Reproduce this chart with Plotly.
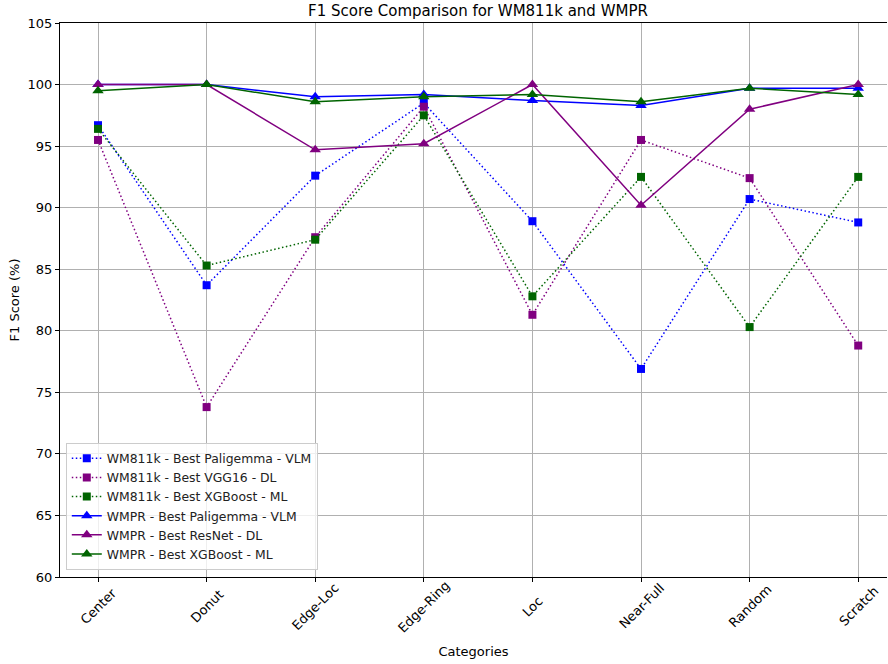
import plotly.graph_objects as go

categories = ["Center", "Donut", "Edge-Loc", "Edge-Ring", "Loc", "Near-Full", "Random", "Scratch"]

wm_paligemma = [96.7, 83.7, 92.6, 98.5, 88.9, 76.9, 90.7, 88.8]
wm_vgg16 = [95.5, 73.8, 87.6, 98.2, 81.3, 95.5, 92.4, 78.8]
wm_xgboost = [96.4, 85.3, 87.4, 97.5, 82.8, 92.5, 80.3, 92.5]
wmpr_paligemma = [100.0, 100.0, 99.0, 99.2, 98.7, 98.3, 99.7, 99.7]
wmpr_resnet = [100.0, 100.0, 94.7, 95.2, 100.0, 90.2, 98.0, 100.0]
wmpr_xgboost = [99.5, 100.0, 98.6, 99.0, 99.2, 98.6, 99.7, 99.2]

x_idx = list(range(len(categories)))

BLUE = "#0000ff"
PURPLE = "#800080"
GREEN = "#006400"
DOTTED = "1.5px,2.5px"

series = [
    ("WM811k - Best Paligemma - VLM", wm_paligemma, BLUE, DOTTED, "square", 8),
    ("WM811k - Best VGG16 - DL", wm_vgg16, PURPLE, DOTTED, "square", 8),
    ("WM811k - Best XGBoost - ML", wm_xgboost, GREEN, DOTTED, "square", 8),
    ("WMPR - Best Paligemma - VLM", wmpr_paligemma, BLUE, "solid", "triangle-up", 10),
    ("WMPR - Best ResNet - DL", wmpr_resnet, PURPLE, "solid", "triangle-up", 10),
    ("WMPR - Best XGBoost - ML", wmpr_xgboost, GREEN, "solid", "triangle-up", 10),
]

fig = go.Figure()
for name, vals, color, dash, sym, size in series:
    fig.add_trace(go.Scatter(
        x=x_idx, y=vals, name=name, mode="lines+markers",
        line=dict(color=color, width=1.5, dash=dash),
        marker=dict(symbol=sym, size=size, color=color),
        cliponaxis=False,
    ))

font_family = "DejaVu Sans"
annotations = []
for i, c in enumerate(categories):
    annotations.append(dict(
        x=i, y=0, xref="x", yref="paper", text=c, showarrow=False,
        textangle=-45, xanchor="center", yanchor="middle", yshift=-29,
        font=dict(family=font_family, size=13, color="#000000"),
    ))

fig.update_layout(
    width=888, height=664,
    margin=dict(l=60, r=1, t=23, b=87, autoexpand=False),
    paper_bgcolor="white", plot_bgcolor="white",
    font=dict(family=font_family, size=13, color="#000000"),
    title=dict(text="F1 Score Comparison for WM811k and WMPR",
               x=478/888, xanchor="center", y=1 - 11/664, yanchor="middle",
               font=dict(family=font_family, size=15, color="#000000")),
    showlegend=True,
    legend=dict(x=0.007, y=0.013, xanchor="left", yanchor="bottom",
                bgcolor="rgba(255,255,255,0.8)", bordercolor="#cccccc", borderwidth=1,
                font=dict(family=font_family, size=12.4, color="#222222"),
                tracegroupgap=0, itemwidth=30),
    annotations=annotations,
)

fig.update_xaxes(
    range=[-0.35, 7.265], tickmode="array", tickvals=x_idx, ticktext=categories,
    showticklabels=False, showgrid=True, gridcolor="#b0b0b0", gridwidth=1,
    showline=True, linecolor="#000000", linewidth=1, mirror=True,
    ticks="outside", ticklen=4, tickcolor="#000000", zeroline=False, automargin=False,
    title=dict(text="Categories", standoff=65, font=dict(family=font_family, size=13)),
)
fig.update_yaxes(
    range=[60, 105], tick0=60, dtick=5, showgrid=True, gridcolor="#b0b0b0", gridwidth=1,
    showline=True, linecolor="#000000", linewidth=1,
    ticks="outside", ticklen=4, tickcolor="#000000", zeroline=False, automargin=False,
    title=dict(text="F1 Score (%)", standoff=5, font=dict(family=font_family, size=13)),
)

fig.write_html("out.html", config={"displayModeBar": False},
               post_script="document.body.style.margin='0';")
